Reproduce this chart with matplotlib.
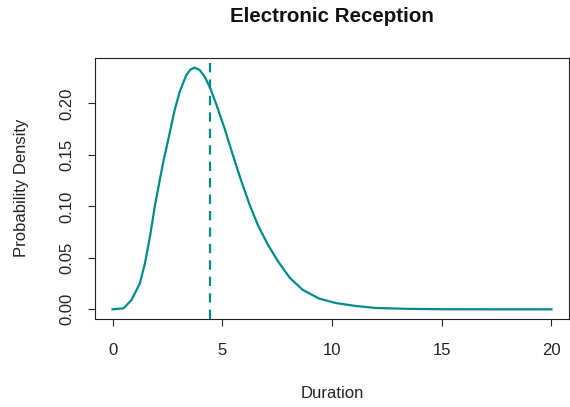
import matplotlib
matplotlib.use("Agg")
import matplotlib.pyplot as plt
import numpy as np

# density curve
duration = [0, 0.5, 0.86, 1.24, 1.47, 1.70, 1.92, 2.15, 2.30, 2.60, 2.83, 3.06,
            3.36, 3.55, 3.74, 3.97, 4.2, 4.45, 4.73, 5.10, 5.48, 5.86, 6.24,
            6.62, 7.07, 7.53, 8.06, 8.66, 9.42, 10.18, 11.1, 12.0, 13.4, 15,
            17.5, 20]
density = [0, 0.001, 0.009, 0.025, 0.044, 0.070, 0.0995, 0.1255, 0.142, 0.171,
           0.1936, 0.2114, 0.2276, 0.2330, 0.2348, 0.2325, 0.226, 0.215, 0.199,
           0.176, 0.150, 0.125, 0.102, 0.082, 0.063, 0.047, 0.031, 0.019,
           0.0104, 0.0061, 0.0032, 0.0013, 0.0005, 0.0001, 0.00001, 0]
mean_duration = 4.44

xticks = [0, 5, 10, 15, 20]
yticks = [0.00, 0.05, 0.10, 0.15, 0.20]
col = "#008B8B"

plt.rcParams['font.family'] = ['Liberation Sans', 'DejaVu Sans']

W, H = 570, 407
fig = plt.figure(figsize=(W / 100, H / 100), dpi=100)
ax = fig.add_axes([95 / W, 1 - 319 / H, (569 - 95) / W, (319 - 58) / H])

ax.plot(duration, density, color=col, lw=1.6, solid_joinstyle='round')
ax.axvline(mean_duration, color=col, lw=1.6, linestyle=(0, (4.2, 3.2)))

x_pad = 0.04 * 20
y_top = max(density)
y_pad = 0.04 * y_top
ax.set_xlim(-x_pad, 20 + x_pad)
ax.set_ylim(-y_pad, y_top + y_pad)

ax.set_xticks(xticks)
ax.set_xticklabels([str(t) for t in xticks])
ax.set_yticks(yticks)
ax.set_yticklabels([f"{t:.2f}" for t in yticks], rotation=90, va='center')
ax.tick_params(direction='out', length=5, width=0.8, labelsize=12,
               colors='#222222')
ax.tick_params(axis='x', pad=12)
ax.tick_params(axis='y', pad=10)
for s in ax.spines.values():
    s.set_linewidth(0.8)
    s.set_color('#222222')

fig.text(332 / W, 1 - 17 / H, "Electronic Reception", ha='center', va='center',
         fontsize=14.8, fontweight='bold', color='#111111')
fig.text(332 / W, 1 - 393 / H, "Duration", ha='center', va='center',
         fontsize=12, color='#222222')
fig.text(22 / W, 1 - 188 / H, "Probability Density", ha='center', va='center',
         rotation=90, fontsize=12, color='#222222')

fig.savefig("out.png", dpi=100)
